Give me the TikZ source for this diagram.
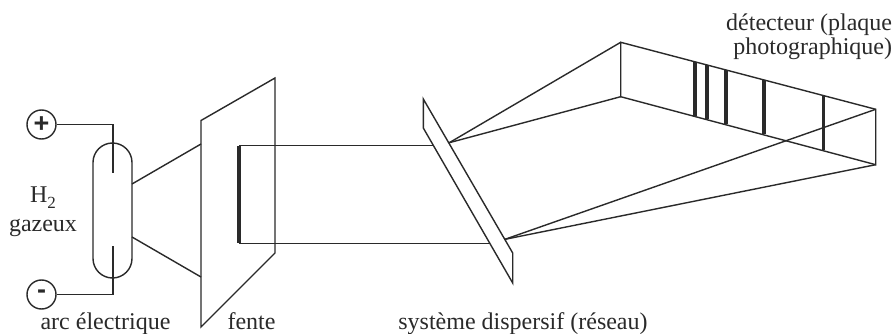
\documentclass[tikz,border=0pt]{standalone}
\usepackage{fontspec}
\setmainfont{Liberation Serif}
\newfontfamily\signfont{Liberation Sans}
\definecolor{ink}{HTML}{2A2A2A}
\tikzset{
  wire/.style={draw=ink,line width=1.4pt,line join=miter},
  spectral/.style={draw=ink,line width=3.6pt},
  lbl/.style={inner sep=0pt,text=ink,font=\fontsize{24}{26}\selectfont,anchor=base},
  sign/.style={circle,draw=ink,line width=1.4pt,minimum size=29pt,inner sep=0pt,text=ink,font=\signfont\bfseries\fontsize{27}{27}\selectfont},
}
\begin{document}
\begin{tikzpicture}[x=1pt,y=-1pt]
\useasboundingbox (0,0) rectangle (895,334);
\fill[white] (0,0) rectangle (895,334);
% source
\node[sign] (plus) at (41.5,124.5) {+};
\node[sign] (minus) at (41.5,294.5) {-};
\node[draw=ink,line width=1.4pt,rounded corners=19.5pt,minimum width=39pt,minimum height=135pt,inner sep=0pt] (tube) at (112.5,210.5) {};
\coordinate (eTop) at (113,173);
\coordinate (eBot) at (113,246);
\draw[wire] (plus.east) -| (eTop);
\draw[wire] (minus.east) -| (eBot);
% slit plane
\coordinate (fA) at (201,120.5);
\coordinate (fB) at (275,78);
\coordinate (fC) at (275,253);
\coordinate (fD) at (201,327);
\draw[wire] (fA) -- (fB) -- (fC) -- (fD) -- cycle;
\coordinate (t1) at (132,184);
\coordinate (t2) at (132,237);
\coordinate (f1) at (201,144);
\coordinate (f2) at (201,277);
\draw[wire] (t1) -- (f1);
\draw[wire] (t2) -- (f2);
\coordinate (s1) at (239,145.5);
\coordinate (s2) at (239,243.5);
\draw[spectral] ([yshift=-0.7pt]s1) -- ([yshift=0.7pt]s2);
% grating
\coordinate (gA) at (423.3,99);
\coordinate (gB) at (423.3,128);
\coordinate (gC) at (512.7,283);
\coordinate (gD) at (512.7,253);
\draw[wire] (gA) -- (gB) -- (gC) -- (gD) -- cycle;
\coordinate (g1) at (433,145.5);
\coordinate (g2) at (490,243.5);
\draw[wire] (s1) -- (g1);
\draw[wire] (s2) -- (g2);
% detector
\coordinate (dA) at (620.7,42.3);
\coordinate (dB) at (620.7,96.7);
\coordinate (dC) at (875.7,164.7);
\coordinate (dD) at (875.7,109.3);
\draw[wire] (dA) -- (dB) -- (dC) -- (dD) -- cycle;
\coordinate (r1) at (449.3,142.7);
\coordinate (r2) at (505,239.3);
\draw[wire] (r1) -- (dA);
\draw[wire] (r1) -- (dB);
\draw[wire] (r2) -- (dD);
\draw[wire] (r2) -- (dC);
% spectral lines
\draw[spectral] (695,62.3) -- (695,116);
\draw[spectral] (706.7,65) -- (706.7,118.7);
\draw[spectral] (725.7,70.3) -- (725.7,124.3);
\draw[spectral] (764,80.3) -- (764,134.3);
\draw[spectral] (823.3,96.3) -- (823.3,150);
% labels
\node[lbl] (h2) at (43,203) {H\raisebox{-0.25em}{\fontsize{17}{17}\selectfont 2}};
\node[lbl] (gaz) at (43,232) {gazeux};
\node[lbl] (arc) at (105.5,329) {arc électrique};
\node[lbl] (fen) at (251.5,329) {fente};
\node[lbl] (sys) at (523,329) {système dispersif (réseau)};
\node[lbl,anchor=base east] (det1) at (892.3,31) {détecteur (plaque};
\node[lbl,anchor=base east] (det2) at (892.3,55) {photographique)};
\end{tikzpicture}
\end{document}
